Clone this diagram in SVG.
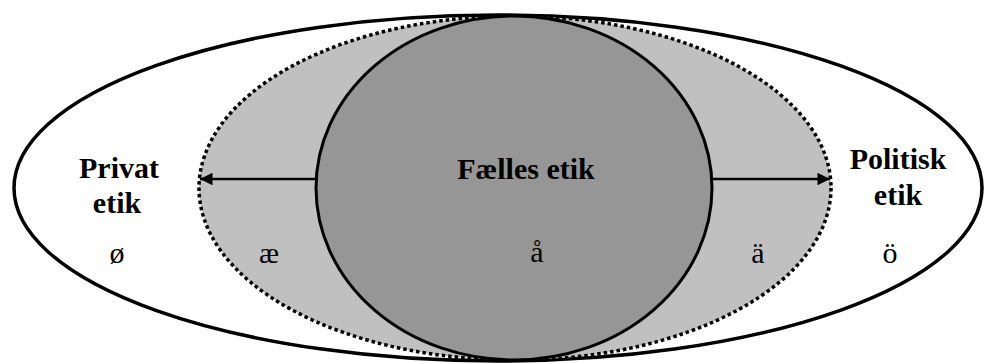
<svg xmlns="http://www.w3.org/2000/svg" width="986" height="363" viewBox="0 0 986 363">
<style>
text{font-family:'Liberation Serif','DejaVu Serif',serif;font-size:30px;text-anchor:middle;fill:#000}
.b{font-weight:bold}
.ln{stroke:#000;stroke-width:2.5;fill:none}
</style>
<defs>
<marker id="ah" viewBox="0 0 10 10" refX="10" refY="5" markerWidth="6" markerHeight="5" markerUnits="strokeWidth" orient="auto">
<path d="M0,0 L10,5 L0,10 z" fill="#000"/>
</marker>
</defs>
<g id="outer"><ellipse cx="498" cy="188" rx="484" ry="173" fill="#fff" stroke="#000" stroke-width="3.5"/></g>
<g id="middle"><ellipse cx="515" cy="188" rx="316" ry="172" fill="#c0c0c0" stroke="#000" stroke-width="3.5" stroke-dasharray="3.5 3"/></g>
<g id="center"><ellipse cx="514" cy="188" rx="198" ry="172" fill="#969696" stroke="#000" stroke-width="3"/></g>
<g id="connectors">
<line class="ln" x1="316" y1="179" x2="200" y2="179" marker-end="url(#ah)"/>
<line class="ln" x1="712" y1="179" x2="830" y2="179" marker-end="url(#ah)"/>
</g>
<g id="privat"><text class="b" x="119" y="178" font-family="Liberation Serif">Privat</text><text class="b" x="117" y="213" font-family="Liberation Serif">etik</text></g>
<g id="faelles"><text class="b" x="526" y="179" font-family="Liberation Serif">Fælles etik</text></g>
<g id="politisk"><text class="b" x="898" y="169" font-family="Liberation Serif">Politisk</text><text class="b" x="898" y="205" font-family="Liberation Serif">etik</text></g>
<g id="letters">
<text x="117" y="263" font-family="Liberation Serif">ø</text>
<text x="269" y="263" font-family="Liberation Serif">æ</text>
<text x="537" y="262" font-family="Liberation Serif">å</text>
<text x="758" y="263" font-family="Liberation Serif">ä</text>
<text x="890" y="263" font-family="Liberation Serif">ö</text>
</g>
</svg>
